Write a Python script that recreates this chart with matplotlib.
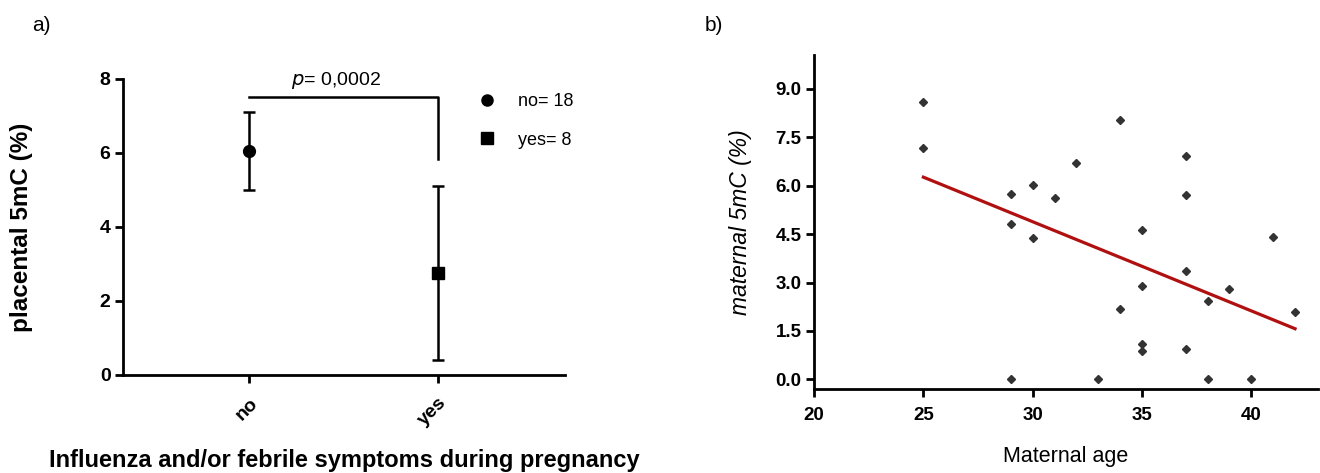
import numpy as np
import matplotlib
matplotlib.use('Agg')
from matplotlib import pyplot as plt
from matplotlib.lines import Line2D

plt.rcParams['font.family'] = ['Liberation Sans', 'DejaVu Sans']

# panel a: mean and error range of placental 5mC by group
groups = ['no', 'yes']
group_mean = [6.05, 2.75]
group_low = [5.0, 0.4]
group_high = [7.1, 5.1]
group_n = [18, 8]
p_text = '0,0002'

# panel b: maternal age vs maternal 5mC
age = [25, 25, 29, 29, 29, 30, 30, 31, 32, 33, 34, 34, 35, 35, 35, 35,
       37, 37, 37, 37, 38, 38, 39, 40, 41, 42]
m5mc = [8.58, 7.18, 5.73, 4.81, 0.0, 6.01, 4.38, 5.63, 6.71, 0.0, 8.04, 2.17,
        4.63, 2.90, 1.10, 0.88, 6.93, 5.72, 3.35, 0.93, 2.43, 0.0, 2.81, 0.0,
        4.41, 2.08]

fig = plt.figure(figsize=(13.2, 4.73), dpi=100)

# ---- panel a
ax = fig.add_axes([0.0932, 0.2072, 0.3348, 0.6258])
xpos = np.arange(len(groups))
mean = np.array(group_mean)
yerr = [mean - np.array(group_low), np.array(group_high) - mean]
markers = ['o', 's']
msizes = [8.5, 8]
for i in range(len(groups)):
    ax.errorbar(xpos[i], mean[i], yerr=[[yerr[0][i]], [yerr[1][i]]],
                fmt=markers[i], color='black', ms=msizes[i], elinewidth=1.8,
                capsize=4.5, capthick=1.8)

# significance bracket
ax.plot([xpos[0], xpos[1], xpos[1]], [7.5, 7.5, 5.85], color='black', lw=1.8)
ax.text(0.46, 7.95, r'$\it{p}$= ' + p_text, ha='center', va='center', fontsize=14)

ax.set_xlim(-0.667, 1.672)
ax.set_ylim(0, 8)
ax.set_yticks([0, 2, 4, 6, 8])
ax.set_xticks(xpos)
ax.set_xticklabels(groups, rotation=45, ha='right', rotation_mode='anchor',
                   fontweight='bold', fontsize=14)
for lab in ax.get_yticklabels():
    lab.set_fontweight('bold')
    lab.set_fontsize(14)
for s in ['top', 'right']:
    ax.spines[s].set_visible(False)
for s in ['left', 'bottom']:
    ax.spines[s].set_linewidth(2)
ax.tick_params(width=2, length=6, direction='out', pad=3)
ax.tick_params(axis='x', pad=8)
ax.set_ylabel('placental 5mC (%)', fontweight='bold', fontsize=17.5)
ax.yaxis.set_label_coords(-0.204, 0.5)
ax.set_xlabel('Influenza and/or febrile symptoms during pregnancy',
              fontweight='bold', fontsize=17, labelpad=14)

handles = [Line2D([], [], marker=m, ls='none', color='black', ms=8) for m in markers]
labels = ['%s= %d' % (g, n) for g, n in zip(groups, group_n)]
ax.legend(handles, labels, loc='upper left', bbox_to_anchor=(0.803, 0.953),
          frameon=False, fontsize=13, labelspacing=1.2, handlelength=1.0,
          handletextpad=1.2, borderaxespad=0, borderpad=0)

fig.text(0.024, 0.935, 'a)', fontsize=15)

# ---- panel b
bx = fig.add_axes([0.6167, 0.1776, 0.3818, 0.7061])
bx.plot(age, m5mc, 'D', color='#333333', ms=3.8, ls='none')
coef = np.polyfit(age, m5mc, 1)
xf = np.array([min(age), max(age)])
bx.plot(xf, np.polyval(coef, xf), color='#b01010', lw=2.3)

bx.set_xlim(20, 43.05)
bx.set_ylim(-0.3, 10.05)
bx.set_xticks([20, 25, 30, 35, 40])
bx.set_yticks([0, 1.5, 3, 4.5, 6, 7.5, 9])
bx.set_yticklabels(['%.1f' % v for v in [0, 1.5, 3, 4.5, 6, 7.5, 9]])
for lab in bx.get_xticklabels() + bx.get_yticklabels():
    lab.set_fontweight('bold')
    lab.set_fontsize(13.5)
for s in ['top', 'right']:
    bx.spines[s].set_visible(False)
for s in ['left', 'bottom']:
    bx.spines[s].set_linewidth(2)
bx.tick_params(width=2, length=6, direction='out', pad=3)
bx.tick_params(axis='x', pad=7)
bx.set_ylabel('maternal 5mC (%)', fontstyle='italic', fontsize=16.5)
bx.yaxis.set_label_coords(-0.123, 0.5)
bx.set_xlabel('Maternal age', fontsize=15.5, labelpad=16)

fig.text(0.534, 0.935, 'b)', fontsize=15)

plt.savefig('out.png', dpi=100)
plt.close()
